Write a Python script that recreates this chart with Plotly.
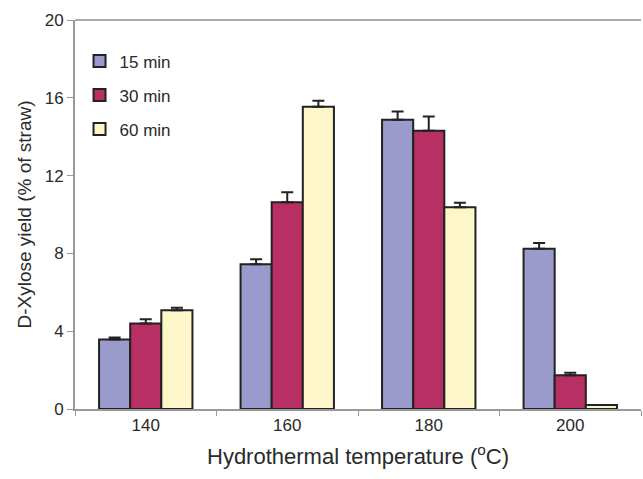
import plotly.graph_objects as go

temps = ["140", "160", "180", "200"]
series_names = ["15 min", "30 min", "60 min"]
y15 = [3.57, 7.44, 14.87, 8.24]
y30 = [4.39, 10.63, 14.31, 1.74]
y60 = [5.08, 15.54, 10.37, 0.20]
e15 = [0.10, 0.26, 0.43, 0.29]
e30 = [0.22, 0.51, 0.73, 0.12]
e60 = [0.12, 0.31, 0.23, 0.0]
colors = ["#9a9acc", "#b82f64", "#fcf6c9"]
y_ticks = [0, 4, 8, 12, 16, 20]

fig = go.Figure()
for name, ys, es, c in zip(series_names, [y15, y30, y60], [e15, e30, e60], colors):
    fig.add_trace(go.Bar(
        x=temps, y=ys, name=name, legendgroup=name,
        marker=dict(color=c, line=dict(color="#222222", width=2)),
        error_y=dict(type="data", array=es, arrayminus=[0]*len(es), symmetric=False,
                     color="#222222", thickness=2, width=6, visible=True),
    ))

fig.update_layout(
    width=643, height=479,
    margin=dict(l=75, r=2, t=20, b=70),
    paper_bgcolor="white", plot_bgcolor="white",
    barmode="group", bargap=0.34, bargroupgap=0,
    font=dict(family="Liberation Sans, Arial, sans-serif", color="#2a2a2a", size=17),
    showlegend=True,
    legend=dict(x=0.008, y=0.94, xanchor="left", yanchor="top",
                bgcolor="rgba(255,255,255,0)", font=dict(size=17),
                itemwidth=30,
                traceorder="grouped", tracegroupgap=9),
    xaxis=dict(
        showline=True, linecolor="#999999", linewidth=2, mirror=False,
        ticks="outside", tickson="boundaries", ticklen=5, tickcolor="#999999",
        tickfont=dict(size=17),
        title=dict(text="Hydrothermal temperature (<sup>o</sup>C)", font=dict(size=22), standoff=14),
    ),
    yaxis=dict(
        range=[0, 20], tickvals=y_ticks, showgrid=False, zeroline=False,
        showline=True, linecolor="#999999", linewidth=2,
        ticks="outside", ticklen=6, tickcolor="#999999",
        tickfont=dict(size=17),
        title=dict(text="D-Xylose yield (% of straw)", font=dict(size=19), standoff=8),
    ),
    shapes=[dict(type="line", xref="paper", yref="paper", x0=0, x1=1, y0=1, y1=1,
                 line=dict(color="#aaaaaa", width=2))],
)

fig.write_html("out.html")
